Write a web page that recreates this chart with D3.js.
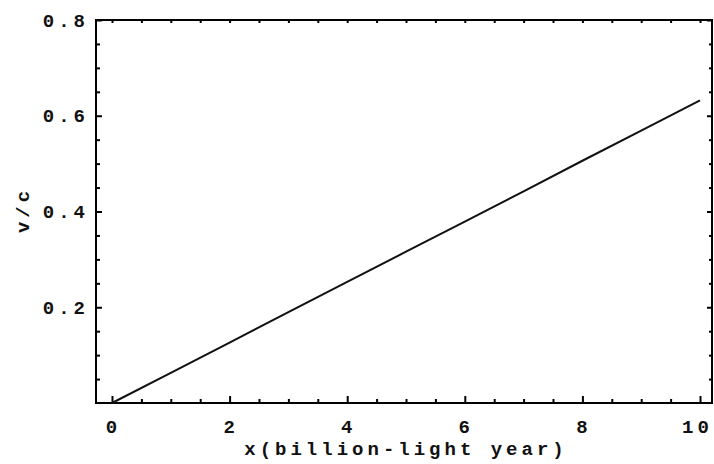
<!DOCTYPE html>
<html>
<head>
<meta charset="utf-8">
<script src="https://cdn.jsdelivr.net/npm/d3@7"></script>
<style>
  html, body { margin: 0; padding: 0; background: #fff; }
  svg { display: block; }
  .tl text { font-family: "Liberation Mono", "DejaVu Sans Mono", monospace; font-size: 19px; font-weight: bold; letter-spacing: 4px; fill: #111; }
</style>
</head>
<body>
<svg id="chart" width="714" height="464"></svg>
<script>
// ---- data ----
const distance = [0, 1, 2, 3, 4, 5, 6, 7, 8, 9, 10];               // x (billion light year)
const velocity = [0, 0.063, 0.126, 0.190, 0.253, 0.316, 0.379, 0.442, 0.506, 0.569, 0.632]; // v/c
const xMajorTicks = [0, 2, 4, 6, 8, 10];
const xTickLabels = ["0", "2", "4", "6", "8", "10"];
const yMajorTicks = [0.2, 0.4, 0.6, 0.8];
const yTickLabels = ["0.2", "0.4", "0.6", "0.8"];
const xLabel = "x(billion-light year)";
const yLabel = "v/c";

const plot = { left: 96, right: 712, top: 20, bottom: 403 };

const svg = d3.select("#chart");

const x = d3.scaleLinear().domain([-0.272, 10.204]).range([plot.left, plot.right]);
const y = d3.scaleLinear().domain([0, 0.8]).range([plot.bottom, plot.top]);

const xMinor = d3.range(0, 10.01, 0.5).filter(v => !xMajorTicks.includes(v));
const yMinor = d3.range(0.05, 0.801, 0.05).map(v => +v.toFixed(2)).filter(v => !yMajorTicks.includes(v));
const xAll = d3.range(0, 10.01, 0.5);

function styleAxis(g) {
  g.select(".domain").remove();
  g.selectAll("line").attr("stroke", "#000").attr("stroke-width", 2);
}

// bottom axis: major ticks with labels
svg.append("g").attr("class", "tl")
  .attr("transform", `translate(0,${plot.bottom})`)
  .call(d3.axisBottom(x).tickValues(xMajorTicks)
    .tickFormat((d, i) => xTickLabels[i]).tickSizeInner(-7).tickSizeOuter(0).tickPadding(17))
  .call(styleAxis)
  .selectAll("text").attr("font-family", null).attr("font-size", null)
  .attr("dx", d => d === 10 ? "-3px" : "1px");
// bottom minor ticks
svg.append("g")
  .attr("transform", `translate(0,${plot.bottom})`)
  .call(d3.axisBottom(x).tickValues(xMinor).tickFormat("").tickSizeInner(-4).tickSizeOuter(0))
  .call(styleAxis);

// top axis ticks (no labels)
svg.append("g")
  .attr("transform", `translate(0,${plot.top})`)
  .call(d3.axisTop(x).tickValues(xAll).tickFormat("").tickSizeInner(-3).tickSizeOuter(0))
  .call(styleAxis);

// left axis major ticks with labels
svg.append("g").attr("class", "tl")
  .attr("transform", `translate(${plot.left},0)`)
  .call(d3.axisLeft(y).tickValues(yMajorTicks)
    .tickFormat((d, i) => yTickLabels[i]).tickSizeInner(-6).tickSizeOuter(0).tickPadding(7))
  .call(styleAxis)
  .selectAll("text").attr("font-family", null).attr("font-size", null);
// left minor ticks
svg.append("g")
  .attr("transform", `translate(${plot.left},0)`)
  .call(d3.axisLeft(y).tickValues(yMinor).tickFormat("").tickSizeInner(-4).tickSizeOuter(0))
  .call(styleAxis);

// right axis ticks
svg.append("g")
  .attr("transform", `translate(${plot.right},0)`)
  .call(d3.axisRight(y).tickValues(yMinor).tickFormat("").tickSizeInner(-3).tickSizeOuter(0))
  .call(styleAxis);
svg.append("g")
  .attr("transform", `translate(${plot.right},0)`)
  .call(d3.axisRight(y).tickValues(yMajorTicks).tickFormat("").tickSizeInner(-5).tickSizeOuter(0))
  .call(styleAxis);

// frame
svg.append("rect")
  .attr("x", plot.left).attr("y", plot.top)
  .attr("width", plot.right - plot.left).attr("height", plot.bottom - plot.top)
  .attr("fill", "none").attr("stroke", "#000").attr("stroke-width", 2);

// curve
const line = d3.line().x((d, i) => x(distance[i])).y(d => y(d));
svg.append("path")
  .datum(velocity)
  .attr("d", line)
  .attr("fill", "none")
  .attr("stroke", "#111")
  .attr("stroke-width", 2);

// axis titles
const tg = svg.append("g").attr("class", "tl");
tg.append("text")
  .attr("x", (plot.left + plot.right) / 2 + 2)
  .attr("y", 455)
  .attr("text-anchor", "middle")
  .text(xLabel);
tg.append("text")
  .attr("transform", `translate(29,210) rotate(-90)`)
  .attr("text-anchor", "middle")
  .text(yLabel);
</script>
</body>
</html>
